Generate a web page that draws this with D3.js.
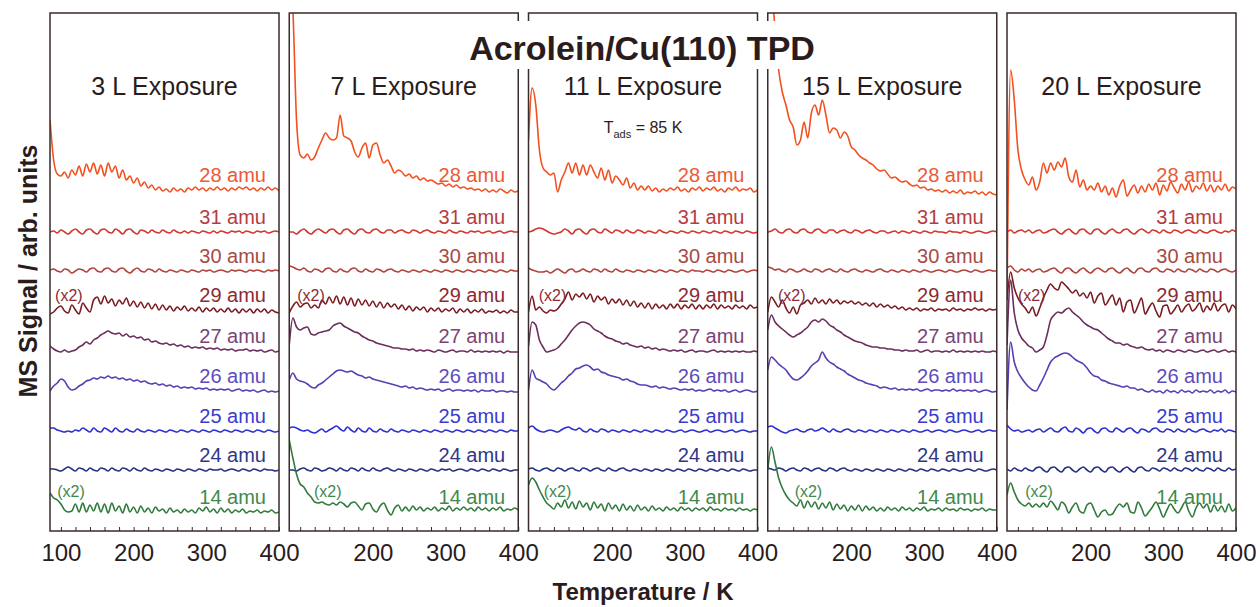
<!DOCTYPE html>
<html>
<head>
<meta charset="utf-8">
<script src="https://cdn.jsdelivr.net/npm/d3@7"></script>
<style>
  body { margin: 0; background: #fff; }
  svg { font-family: "Liberation Sans", Arial, sans-serif; }
</style>
</head>
<body>
<svg id="chart" width="1260" height="607"></svg>
<script>
// temperature grid (K) shared by all traces
const temps = [85,90,95,100,105,110,115,120, 125,130,135,140,145,150,155,160,
  165,170,175,180,185,190,195,200, 205,210,215,220,225,230,235,240,
  245,250,255,260,265,270,275,280, 285,290,295,300,305,310,315,320,
  325,330,335,340,345,350,355,360, 365,370,375,380,385,390,395,400];

const panels = ["3 L Exposure", "7 L Exposure", "11 L Exposure", "15 L Exposure", "20 L Exposure"];
const masses = ["28 amu", "31 amu", "30 amu", "29 amu", "27 amu", "26 amu", "25 amu", "24 amu", "14 amu"];
// vertical stacking offset of each mass trace (arb. units)
const offsets = [341, 299, 260, 221, 180, 140, 100, 61, 19];
const xTicks = [100, 200, 300, 400];

// signal above each trace's offset (arb. units), one row per mass, same order as masses
const sig3L = [
  [70,30,16,14,18,12,20,15, 24,14,26,18,27,16,25,14, 27,18,24,12,20,10,14,7, 12,4,8,2,5,0,3,-1, 1,-2,2,-1,1,-2,2,0, 3,0,2,-1,2,0,3,0, 2,-1,2,0,3,1,3,0, 2,-1,2,0,3,0,2,-1],
  [0,1,-1,2,0,-2,1,3, 0,-2,2,3,0,-2,2,3, 0,-1,3,1,-2,2,3,0, -2,2,1,-1,2,0,-1,2, 0,-1,2,0,-1,1,-1,1, 0,-1,1,0,-1,1,-1,1, 0,-1,1,0,1,-1,1,0, -1,1,0,1,-1,0,1,0],
  [1,2,0,-1,2,1,-2,0, 2,1,-1,2,3,0,-1,2, 3,0,-1,2,3,0,-2,1, 3,0,-1,2,1,-1,2,0, -1,1,0,-1,1,0,-1,1, 0,-1,1,0,1,-1,0,1, 0,-1,1,0,1,0,-1,1, 0,1,0,-1,1,0,1,0],
  [-4,-2,2,4,-1,-3,5,0, -4,7,2,-2,10,13,6,14, 7,11,4,10,6,12,4,9, 3,8,2,7,1,6,0,5, 0,4,-1,3,0,4,-1,2, -1,3,-2,2,-1,2,-2,1, -2,2,-2,1,-3,1,-2,1, -3,1,-2,1,-3,0,-2,-3],
  [5,2,0,-1,1,-1,0,1, 4,6,9,7,11,13,16,18, 20,18,17,18,15,17,14,15, 13,14,11,12,9,10,8,7, 8,6,7,5,6,4,5,3, 4,3,4,2,3,2,3,1, 2,1,2,0,1,1,2,0, 1,0,1,-1,0,1,-1,0],
  [0,5,8,12,10,4,1,2, 5,7,10,11,13,12,14,13, 15,13,14,12,13,11,12,10, 11,9,10,8,7,8,6,7, 5,6,4,5,3,4,3,4, 2,3,2,3,1,2,1,2, 1,2,0,1,2,0,1,0, 1,-1,0,1,-1,0,-1,0],
  [3,3,1,0,-1,0,-1,1, 0,3,1,-1,3,0,-1,3, 1,-1,3,0,-1,2,0,-1, 2,0,-1,1,0,-1,1,0, -1,1,0,-1,1,0,-1,1, 0,-1,1,0,-1,1,0,-1, 1,0,-1,1,0,-1,1,0, -1,1,0,-1,1,0,-1,0],
  [1,1,0,-1,1,3,1,-1, 2,1,-1,2,0,-1,2,1, -1,2,0,-1,2,1,-1,2, 0,-1,2,0,-1,1,0,-1, 1,0,-1,1,0,-1,1,0, -1,1,0,-1,1,0,0,1, -1,0,1,0,-1,1,0,-1, 1,0,-1,1,0,0,-1,0],
  [19,14,12,8,2,0,1,8, 0,9,0,7,1,9,0,8, -1,9,1,6,-1,8,0,5, -1,6,0,4,-1,5,1,3, -1,4,0,2,-1,3,0,2, -1,4,1,5,0,3,-1,4, 0,3,-1,2,0,3,-1,1, 0,2,-1,1,0,2,-1,0]
];
const sig7L = [
  [220,180,70,35,32,36,30,33, 42,50,57,52,50,52,75,54, 52,49,38,33,42,47,32,45, 47,35,27,30,24,17,20,18, 14,16,12,14,10,12,9,10, 8,6,7,4,6,3,5,2, 3,1,2,0,1,-1,1,-2, 0,-2,1,-1,-3,0,-2,-1],
  [0,0,-2,1,3,0,-2,1, 3,1,-1,2,3,0,-2,2, 3,0,-2,2,3,0,-1,2, 3,0,-1,2,2,-1,1,2, 0,-1,2,1,-1,1,2,0, -1,1,0,-1,2,0,-1,1, 0,-1,1,0,1,-1,0,1, -1,0,1,-1,0,1,0,0],
  [5,4,2,1,3,0,-1,2, 1,-1,2,3,0,-1,2,0, -1,2,3,0,-1,2,0,-1, 2,1,-1,1,2,0,-1,1, 0,-1,1,0,-1,1,0,-1, 1,0,-1,1,0,-1,1,0, -1,1,0,-1,1,0,-1,1, 0,-1,1,0,-1,1,0,0],
  [-3,4,8,3,6,7,2,5, 2,10,6,13,7,14,6,13, 5,12,4,11,5,10,4,9, 3,8,2,7,3,6,1,5, 0,4,-1,3,0,3,-2,2, -1,2,-2,1,-1,2,-3,1, -2,1,-3,0,-2,1,-3,-1, -2,0,-3,-1,-3,0,-2,-2],
  [6,33,24,21,23,24,17,16, 18,19,20,21,25,27,28,25, 23,21,19,18,15,13,11,10, 8,7,6,5,4,3,3,2, 2,1,2,0,1,0,1,0, -1,1,0,-1,0,1,-1,0, 0,-1,1,-1,0,-1,0,-1, 0,-1,0,-2,0,-1,-1,-1],
  [11,18,12,10,9,7,4,3, 6,8,11,14,17,20,21,20, 19,20,18,16,15,13,14,12, 11,10,9,8,7,6,5,4, 5,3,4,2,3,2,1,2, 1,2,0,1,2,0,1,1, 0,1,0,1,-1,1,0,0, 1,-1,0,0,-1,0,-1,-1],
  [3,4,3,1,0,1,-1,-2, 0,2,-1,1,3,5,2,0, 4,1,-1,3,0,-1,3,0, -1,2,0,-1,2,0,-1,1, 0,-1,1,0,-1,1,0,-1, 1,0,-1,1,0,-1,1,0, -1,1,0,-1,1,0,-1,1, 0,-1,1,0,-1,1,0,0],
  [0,0,-1,1,2,0,-1,2, 1,-1,0,2,1,-1,2,0, -1,2,1,-1,2,0,-1,2, 0,-1,1,2,0,-1,1,0, -1,1,0,-1,1,0,-1,1, 0,-1,1,0,1,-1,0,1, 0,-1,1,0,-1,1,0,-1, 1,0,-1,1,0,-1,0,0],
  [72,54,38,28,25,19,15,10, 9,10,8,7,9,7,10,8, 5,9,10,6,2,8,9,3, 0,6,9,2,-3,4,7,1, 5,1,6,2,5,1,4,2, 5,1,4,2,6,1,4,2, 5,2,4,1,5,2,4,1, 4,2,5,1,3,2,4,2]
];
const sig11L = [
  [50,102,85,40,22,18,15,17, -2,10,18,27,17,27,15,25, 15,25,18,12,22,10,20,7, 14,10,5,12,2,7,0,4, 0,4,-1,2,-2,1,-1,2, 0,3,-1,1,-2,2,0,3, -1,2,0,3,-1,1,-2,2, 0,3,-1,1,0,2,-2,0],
  [0,1,3,4,3,1,-1,-2, -1,0,3,1,-2,2,3,0, -2,2,3,0,-1,3,1,-1, 2,1,-1,2,0,-1,2,1, -1,1,0,-1,2,0,-1,1, 0,-1,1,0,-1,1,0,-1, 1,0,-1,1,0,-1,1,0, -1,1,0,-1,1,0,-1,0],
  [3,1,0,-1,-1,0,-2,0, 2,0,-2,1,2,-1,0,2, 0,-1,2,1,-1,2,0,-1, 2,0,-1,1,0,-1,1,0, -1,1,0,-1,1,0,-1,1, 0,-1,1,0,-1,1,0,0, -1,1,0,-1,1,0,-1,1, 0,-1,0,1,-1,0,1,0],
  [-2,14,0,3,-1,-3,0,-1, 1,6,11,18,10,16,13,17, 11,16,8,14,10,13,6,11, 7,11,5,10,4,9,3,7, 2,7,1,6,2,5,1,6, 2,6,1,5,2,6,1,5, 1,5,2,6,1,5,2,4, 1,5,2,4,1,5,2,3],
  [5,29,26,11,4,-1,0,1, 3,7,11,16,21,25,28,29, 28,26,22,20,18,15,13,12, 10,9,7,8,6,5,4,5, 3,4,2,3,1,2,1,0, 1,0,1,-1,0,1,-1,0, 0,-1,0,1,-1,0,-1,0, -1,0,-1,0,-1,-1,0,-1],
  [1,21,13,11,9,7,3,1, 4,8,11,15,18,22,23,25, 26,24,21,22,19,18,16,15, 14,13,11,12,10,9,7,6, 6,5,4,5,3,4,3,2, 3,2,1,2,1,2,0,1, 0,1,2,0,1,0,1,-1, 0,1,-1,0,1,0,-1,0],
  [3,5,2,0,-1,0,1,0, -1,1,3,4,2,1,3,0, -1,2,0,-1,2,1,-1,1, 0,-1,1,0,-1,1,0,-1, 1,0,-1,1,0,-1,1,0, -1,0,1,-1,0,1,0,-1, 0,1,-1,0,1,0,-1,0, 1,-1,0,1,0,-1,0,0],
  [1,2,0,-1,1,2,0,-1, 2,1,-1,1,2,0,-1,2, 1,-1,1,2,0,-1,2,0, -1,1,2,0,-1,1,0,-1, 1,0,-1,1,0,-1,1,0, -1,1,0,-1,1,0,-1,1, 0,-1,1,0,-1,1,0,-1, 1,0,-1,1,0,-1,0,0],
  [27,34,30,22,15,9,6,3, 9,5,12,4,10,3,11,5, 9,2,10,4,8,1,9,3, 7,1,8,2,6,1,7,2, 5,1,6,2,4,1,5,2, 4,1,5,2,4,1,4,2, 4,1,5,2,3,1,4,2, 3,1,4,2,3,1,3,2]
];
const sig15L = [
  [230,210,160,120,98,85,70,63, 45,50,68,52,77,85,75,90, 75,57,62,60,52,58,54,43, 40,35,32,30,27,25,21,19, 20,16,12,13,10,8,9,6, 4,5,2,3,0,1,-1,0, -2,0,-3,-1,-3,0,-4,-2, -3,-1,-4,-2,-5,-2,-4,-5],
  [0,1,3,0,-1,2,3,0, -1,2,3,0,-1,2,3,0, -1,2,2,-1,1,2,0,-1, 2,1,-1,1,2,0,-1,1, 1,-1,0,1,-1,1,0,-1, 1,0,-1,1,0,-1,1,0, 0,-1,1,0,0,-1,1,0, -1,0,1,0,-1,0,1,0],
  [4,3,1,2,0,-1,2,1, -1,0,2,0,-1,2,1,-1, 1,2,0,-1,2,0,-1,1, 2,0,-1,1,0,-1,1,2, 0,-1,1,0,-1,1,0,-1, 1,0,-1,1,0,-1,0,1, 0,-1,1,0,-1,0,1,0, -1,1,0,-1,0,1,0,0],
  [-2,13,8,3,10,2,-3,3, -4,5,7,10,6,12,7,10, 6,11,7,10,6,9,7,9, 6,8,5,7,4,7,3,6, 3,5,2,4,1,3,0,2, 0,2,-1,1,0,2,-1,1, 0,1,-1,2,0,1,-1,1, 0,2,0,1,-1,1,0,1],
  [21,36,29,25,22,19,16,14, 16,18,21,24,29,31,29,32, 30,26,24,21,19,16,14,12, 10,9,8,6,5,4,4,3, 3,2,2,1,1,0,1,0, 0,1,-1,0,1,-1,0,0, -1,0,-1,1,-1,0,-1,0, -1,0,-1,0,-1,-1,0,-1],
  [21,34,31,27,24,21,16,12, 11,13,16,20,25,28,31,39, 33,29,27,24,22,20,17,15, 13,11,10,8,7,6,5,3, 4,3,2,3,1,2,1,2, 1,2,0,1,2,0,1,1, 0,1,0,2,0,1,0,1, 0,1,-1,0,1,0,-1,0],
  [4,5,3,1,-1,-2,0,1, 2,0,-1,1,2,0,1,3, 1,-1,2,0,-1,1,2,0, -1,1,0,-1,1,0,-1,1, 0,-1,1,0,-1,1,0,-1, 1,0,-1,0,1,-1,0,1, 0,-1,1,0,-1,0,1,0, -1,0,1,-1,0,1,0,0],
  [2,1,0,2,1,-1,1,2, 0,-1,2,1,-1,1,2,0, -1,2,1,-1,1,2,0,-1, 1,0,-1,1,0,-1,1,0, -1,1,0,-1,1,0,-1,1, 0,-1,1,0,-1,1,0,-1, 1,0,-1,1,0,-1,0,1, 0,-1,1,0,-1,0,1,0],
  [42,65,50,34,24,17,12,9, 6,12,4,11,5,10,3,9, 4,10,2,8,3,7,1,6, 2,7,1,6,2,5,1,4, 1,5,2,4,1,5,2,4, 1,4,2,5,1,3,2,4, 1,4,2,3,1,4,2,3, 1,3,2,4,1,3,2,2]
];
const sig20L = [
  [-110,120,90,40,20,10,5,13, 0,8,27,17,27,20,28,23, 32,13,8,20,3,10,0,4, 0,7,-2,4,-5,2,-7,4, 10,-6,0,5,-3,4,-2,6, 0,7,-5,5,-1,8,2,-3, 6,0,8,-2,4,1,7,-1, 5,-2,4,0,6,-1,3,1],
  [0,2,-1,1,2,0,2,-1, 1,2,-1,0,2,3,0,-2, 1,3,0,-2,2,3,0,-2, 2,3,0,-2,1,3,0,-1, 2,3,0,-2,1,3,1,-1, 2,1,-1,2,0,-1,2,1, -1,1,2,0,-1,2,0,-1, 1,2,0,-1,1,0,2,0],
  [3,5,1,-1,2,0,2,-1, 1,2,-1,0,2,3,0,-2, 2,3,0,-2,1,3,0,-2, 1,3,1,-1,2,3,0,-2, 1,3,0,-2,2,3,0,-1, 2,3,0,-1,2,1,-1,2, 0,-1,2,1,-1,2,0,-1, 2,1,-1,1,2,0,-1,1],
  [10,38,22,12,6,2,-3,3, -6,2,12,20,26,22,20,28, 25,21,17,20,14,17,12,18, 7,14,17,5,10,15,5,12, -2,8,10,-3,4,12,-4,2, 7,-1,-7,4,5,-4,0,5, -2,3,6,-1,2,7,-2,4, 0,7,-1,4,6,-2,5,1],
  [6,71,38,21,13,9,5,3, -1,1,4,16,31,36,39,38, 41,43,39,36,33,29,26,24, 22,21,18,15,12,10,8,8, 6,7,5,4,3,4,2,1, 2,0,1,-1,1,0,-1,1, 0,-1,1,0,-1,0,1,-1, 0,1,-1,0,1,-1,0,-1],
  [-19,49,29,19,13,8,4,1, 0,6,13,21,29,33,35,37, 38,37,34,31,29,27,23,18, 15,14,11,10,8,7,6,5, 4,5,3,3,1,2,0,-1, 1,-1,0,-2,1,-1,0,-2, 1,-1,0,-2,1,-1,0,-1, 1,-2,0,-1,1,-2,0,-1],
  [6,2,0,1,-1,0,1,-1, 1,2,-1,1,3,0,-1,2, 4,0,-1,3,1,-2,2,3, 0,-2,2,3,0,-1,3,1, -1,2,3,0,-2,2,1,-1, 2,3,0,-1,2,1,-1,2, 0,-1,2,0,-1,1,2,0, -1,1,0,2,-1,1,0,-1],
  [1,-1,2,0,-1,2,0,-1, 2,3,0,-2,2,3,0,-2, 2,3,0,-2,1,3,0,-2, 2,3,0,-2,2,3,0,-2, 1,3,0,-2,2,3,0,-1, 2,1,-1,2,1,-1,2,0, -1,2,1,-1,2,0,-1,2, 1,-1,2,0,-1,2,0,1],
  [17,29,20,12,8,6,9,5, 8,5,9,5,11,7,2,10, 7,-1,5,9,1,-1,7,9, 2,-5,0,2,-3,-2,4,8, 5,9,0,-1,10,4,-4,0, 5,10,3,-5,2,8,3,-1, 4,10,1,-5,4,9,4,8, 0,7,1,6,0,8,1,4]
];
const signals = [sig3L, sig7L, sig11L, sig15L, sig20L];

// colours
const traceColors = ["#f2501f", "#d2352c", "#b3413a", "#7a1b22", "#6b2d5e", "#5b3db3", "#2b2fd0", "#252f80", "#2f7a3c"];
const labelColors = ["#ea5a36", "#b83a40", "#a84a44", "#8e2a32", "#7a4575", "#5d4cbc", "#3a3ccc", "#2f3888", "#3f8a4c"];
const ink = "#2a1c1c";

// layout
const svg = d3.select("#chart");
const panelLeft0 = 50, panelStep = 239.25, panelW = 229;
const plotTop = 13, plotBottom = 531;
// (x2) label anchor temperatures per panel
const x2T29 = [92, 96, 99, 99, 100];
const x2T14 = [95, 119, 106, 122, 110];

const y = d3.scaleLinear().domain([0, 518]).range([plotBottom, plotTop]);

panels.forEach((name, p) => {
  const left = panelLeft0 + p * panelStep;
  const x = d3.scaleLinear().domain([85, 400]).range([left, left + panelW]);
  const g = svg.append("g");

  g.append("clipPath").attr("id", "clip" + p)
    .append("rect")
    .attr("x", left).attr("y", plotTop)
    .attr("width", panelW).attr("height", plotBottom - plotTop);

  const line = d3.line()
    .x((d, i) => x(temps[i]))
    .y(d => y(d))
    .curve(d3.curveMonotoneX);

  signals[p].forEach((dev, m) => {
    g.append("path")
      .datum(dev.map(v => v + offsets[m]))
      .attr("d", line)
      .attr("fill", "none")
      .attr("stroke", traceColors[m])
      .attr("stroke-width", 1.6)
      .attr("stroke-linejoin", "round")
      .attr("clip-path", `url(#clip${p})`);

    // mass label, right aligned just above the trace
    g.append("text")
      .attr("x", left + panelW - 13)
      .attr("y", y(offsets[m]) - 8)
      .attr("text-anchor", "end")
      .style("font-size", "20px")
      .attr("fill", labelColors[m])
      .text(masses[m]);
  });

  // (x2) markers
  g.append("text")
    .attr("x", x(x2T29[p])).attr("y", y(offsets[3]) - 9)
    .style("font-size", "16px").attr("fill", labelColors[3])
    .text("(x2)");
  g.append("text")
    .attr("x", x(x2T14[p])).attr("y", y(offsets[8]) - 15)
    .style("font-size", "16px").attr("fill", labelColors[8])
    .text("(x2)");

  // frame
  g.append("rect")
    .attr("x", left).attr("y", plotTop)
    .attr("width", panelW).attr("height", plotBottom - plotTop)
    .attr("fill", "none")
    .attr("stroke", "#3a2b2b")
    .attr("stroke-width", 1.5);

  // bottom axis, ticks pointing inward
  const axis = d3.axisBottom(x)
    .tickValues(d3.range(100, 401, 20))
    .tickSizeInner(-4)
    .tickSizeOuter(0)
    .tickPadding(13)
    .tickFormat(d => xTicks.includes(d) && (p === 0 || d > 100) ? d : "");
  const ax = g.append("g")
    .attr("transform", `translate(0,${plotBottom})`)
    .call(axis);
  ax.select(".domain").remove();
  ax.selectAll("line").attr("stroke", "#3a2b2b");
  ax.selectAll("text")
    .style("font-size", "24px")
    .style("font-family", "'Liberation Sans', Arial, sans-serif")
    .attr("fill", ink);

  // exposure title
  g.append("text")
    .attr("x", left + panelW / 2)
    .attr("y", 95)
    .attr("text-anchor", "middle")
    .style("font-size", "25px")
    .attr("fill", ink)
    .text(name);
});

// adsorption temperature note in the 11 L panel
const tads = svg.append("text")
  .attr("x", panelLeft0 + 2 * panelStep + panelW / 2)
  .attr("y", 133)
  .attr("text-anchor", "middle")
  .style("font-size", "16px")
  .attr("fill", ink);
tads.append("tspan").text("T");
tads.append("tspan").attr("dy", 5).style("font-size", "11px").text("ads");
tads.append("tspan").attr("dy", -5).text(" = 85 K");

// main title on a white box cutting the frames
svg.append("rect")
  .attr("x", 468).attr("y", 21)
  .attr("width", 349).attr("height", 48)
  .attr("fill", "#fff");
svg.append("text")
  .attr("x", 642)
  .attr("y", 60)
  .attr("text-anchor", "middle")
  .style("font-size", "34px")
  .style("font-weight", "bold")
  .attr("fill", ink)
  .text("Acrolein/Cu(110) TPD");

// axis titles
svg.append("text")
  .attr("transform", "translate(37,271) rotate(-90)")
  .attr("text-anchor", "middle")
  .style("font-size", "25px")
  .style("font-weight", "bold")
  .attr("fill", ink)
  .text("MS Signal / arb. units");

svg.append("text")
  .attr("x", 643)
  .attr("y", 600)
  .attr("text-anchor", "middle")
  .style("font-size", "24px")
  .style("font-weight", "bold")
  .attr("fill", ink)
  .text("Temperature / K");
</script>
</body>
</html>
